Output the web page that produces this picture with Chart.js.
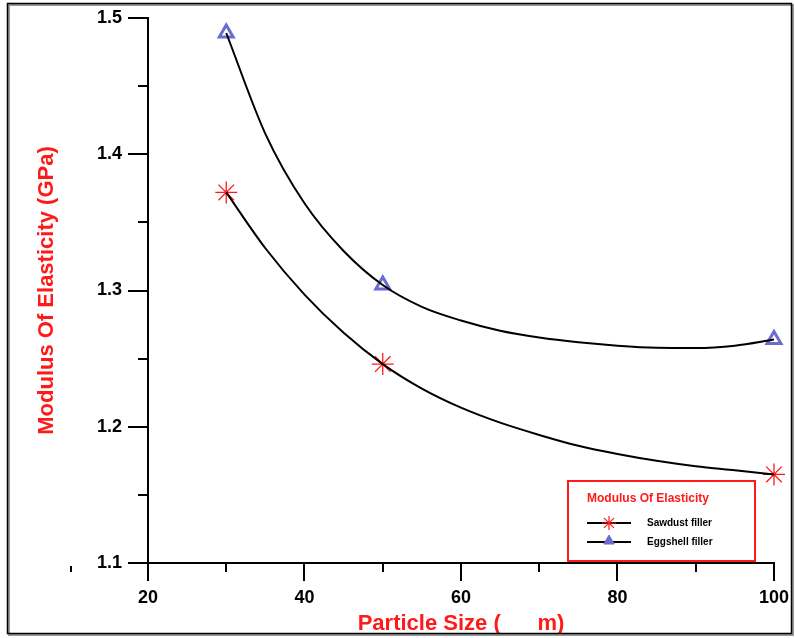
<!DOCTYPE html>
<html lang="en">
<head>
<meta charset="UTF-8">
<title>Modulus Of Elasticity</title>
<script src="https://cdn.jsdelivr.net/npm/chart.js"></script>
<style>
  html, body { margin: 0; padding: 0; background: #fff; }
</style>
</head>
<body>
<canvas id="modChart" width="795" height="638"></canvas>
<script>
// measured points
var particleSize = [30, 50, 100];
var sawdust = [1.372, 1.246, 1.165];
var eggshell = [1.489, 1.304, 1.264];

// fitted curves
var fitSize = [30, 35, 40, 45, 50, 55, 60, 65, 70, 75, 80, 85, 90, 95, 100];
var sawdustFit = [1.372, 1.331, 1.297, 1.269, 1.246, 1.228, 1.214, 1.203, 1.194, 1.186, 1.180, 1.175, 1.171, 1.168, 1.165];
var eggshellFit = [1.489, 1.415, 1.364, 1.329, 1.304, 1.288, 1.278, 1.2705, 1.2655, 1.262, 1.2595, 1.258, 1.2578, 1.2595, 1.264];

var xTicks = [20, 40, 60, 80, 100];
var yTicks = [1.1, 1.2, 1.3, 1.4, 1.5];
var xMinor = [30, 50, 70, 90];
var yMinor = [1.15, 1.25, 1.35, 1.45];

var legendTitle = 'Modulus Of Elasticity';
var FONT = '"Liberation Sans", Arial, sans-serif';
var RED = '#ff1a1a';
var BLUE = '#6b6bd0';

function pts(xs, ys) {
    return xs.map(function(x, i) { return { x: x, y: ys[i] }; });
}

// white page, outer frame, minor ticks and the boxed legend
var extras = {
    id: 'extras',
    beforeDraw: function(chart) {
        var c = chart.ctx;
        c.save();
        c.fillStyle = '#fff';
        c.fillRect(0, 0, chart.width, chart.height);
        c.restore();
    },
    afterDraw: function(chart) {
        var c = chart.ctx;
        var xs = chart.scales.x, ys = chart.scales.y;
        c.save();

        // frame
        c.strokeStyle = '#999';
        c.lineWidth = 2;
        c.strokeRect(9, 5, 784, 630);
        c.strokeStyle = '#000';
        c.lineWidth = 1.5;
        c.strokeRect(7.5, 3.5, 784, 630);

        // minor ticks
        c.strokeStyle = '#000';
        c.lineWidth = 2;
        c.beginPath();
        yMinor.forEach(function(v) {
            var y = Math.round(ys.getPixelForValue(v));
            c.moveTo(xs.left - 10, y);
            c.lineTo(xs.left, y);
        });
        xMinor.forEach(function(v) {
            var x = Math.round(xs.getPixelForValue(v));
            c.moveTo(x, ys.bottom);
            c.lineTo(x, ys.bottom + 9);
        });
        // small stray mark left of the 1.1 label
        c.moveTo(71, ys.bottom + 3);
        c.lineTo(71, ys.bottom + 9);
        c.stroke();

        // legend box
        var bx = 568, by = 481, bw = 187, bh = 80;
        c.strokeStyle = RED;
        c.lineWidth = 2;
        c.strokeRect(bx, by, bw, bh);
        c.fillStyle = RED;
        c.font = 'bold 12px ' + FONT;
        c.textBaseline = 'middle';
        c.textAlign = 'left';
        c.fillText(legendTitle, bx + 19, by + 18);

        var rows = [chart.data.datasets[2], chart.data.datasets[3]];
        rows.forEach(function(ds, i) {
            var y = by + 42 + i * 19;
            var tri = ds.pointStyle === 'triangle';
            c.strokeStyle = '#000';
            c.lineWidth = 2;
            c.beginPath();
            c.moveTo(bx + 19, y);
            c.lineTo(bx + 63, y);
            c.stroke();
            c.strokeStyle = ds.borderColor;
            c.fillStyle = tri ? ds.borderColor : 'rgba(0,0,0,0)';
            c.lineWidth = tri ? 1 : 1.2;
            Chart.helpers.drawPoint(c, {
                pointStyle: ds.pointStyle,
                radius: tri ? 6 : 7,
                rotation: 0,
                borderWidth: c.lineWidth
            }, bx + 41, tri ? y - 1 : y);
            c.fillStyle = '#000';
            c.font = 'bold 10px ' + FONT;
            c.fillText(ds.label, bx + 79, y);
        });
        c.restore();
    }
};

var ctx = document.getElementById('modChart').getContext('2d');
var modChart = new Chart(ctx, {
    type: 'line',
    data: {
        datasets: [{
            label: 'Sawdust fit',
            data: pts(fitSize, sawdustFit),
            borderColor: '#000',
            borderWidth: 2,
            pointRadius: 0,
            cubicInterpolationMode: 'monotone',
            fill: false
        }, {
            label: 'Eggshell fit',
            data: pts(fitSize, eggshellFit),
            borderColor: '#000',
            borderWidth: 2,
            pointRadius: 0,
            cubicInterpolationMode: 'monotone',
            fill: false
        }, {
            label: 'Sawdust filler',
            data: pts(particleSize, sawdust),
            showLine: false,
            clip: false,
            pointStyle: 'star',
            pointRadius: 11,
            borderColor: RED,
            backgroundColor: RED,
            pointBorderWidth: 1.3
        }, {
            label: 'Eggshell filler',
            data: pts(particleSize, eggshell),
            showLine: false,
            clip: false,
            pointStyle: 'triangle',
            pointRadius: 8,
            borderColor: BLUE,
            backgroundColor: '#fff',
            pointBorderWidth: 3
        }]
    },
    options: {
        responsive: false,
        animation: false,
        layout: { padding: { left: 0, right: 20, top: 18, bottom: 0 } },
        plugins: {
            legend: { display: false },
            tooltip: { enabled: false }
        },
        scales: {
            x: {
                type: 'linear',
                min: 20,
                max: 100,
                afterBuildTicks: function(s) { s.ticks = xTicks.map(function(v) { return { value: v }; }); },
                afterFit: function(s) { s.height = 75; },
                ticks: {
                    color: '#000',
                    font: { family: FONT, size: 18, weight: 'bold' },
                    padding: 6,
                    maxRotation: 0
                },
                grid: { drawOnChartArea: false, tickLength: 18, color: '#000', lineWidth: 2 },
                border: { color: '#000', width: 2 },
                title: {
                    display: true,
                    text: 'Particle Size (      m)',
                    color: RED,
                    font: { family: FONT, size: 22, weight: 'bold' },
                    padding: { top: 0, bottom: 1 }
                }
            },
            y: {
                type: 'linear',
                min: 1.1,
                max: 1.5,
                afterBuildTicks: function(s) { s.ticks = yTicks.map(function(v) { return { value: v }; }); },
                afterFit: function(s) { s.width = 148; },
                ticks: {
                    color: '#000',
                    font: { family: FONT, size: 18, weight: 'bold' },
                    padding: 6,
                    callback: function(v) { return v.toFixed(1); }
                },
                grid: { drawOnChartArea: false, tickLength: 20, color: '#000', lineWidth: 2 },
                border: { color: '#000', width: 2 },
                title: {
                    display: true,
                    text: 'Modulus Of Elasticity (GPa)',
                    color: RED,
                    font: { family: FONT, size: 22, weight: 'bold' },
                    padding: { top: 34, bottom: 0 }
                }
            }
        }
    },
    plugins: [extras]
});
</script>
</body>
</html>
